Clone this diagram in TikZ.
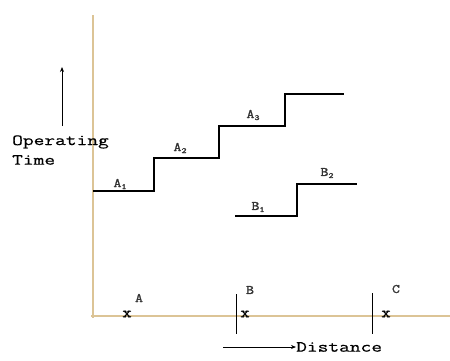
\documentclass[tikz,border=0pt]{standalone}
\usepackage{fontspec}
\newfontfamily\mono[FakeStretch=1.35,FakeBold=0.6]{Latin Modern Mono}
\newfontfamily\monob[FakeStretch=1.2,FakeBold=1.5]{Latin Modern Mono}
\usetikzlibrary{arrows.meta}
\definecolor{axiscol}{RGB}{220,196,150}
\tikzset{
  axisline/.style={draw=axiscol,line width=2.2bp},
  stepline/.style={draw=black,line width=2.2bp},
  tick/.style={draw=black,line width=0.9bp},
  txt/.style={font=\mono\fontsize{15.5}{16}\selectfont,inner sep=0pt},
  lbl/.style={font=\monob\fontsize{13}{13}\selectfont,inner sep=0pt,text=black!80},
  xmark/.style={font=\monob\fontsize{15}{15}\selectfont,inner sep=0pt},
  pointer/.style={draw=black,line width=0.8bp,-{Stealth[length=5bp,width=4bp]}}
}
\newcommand{\sub}[2]{#1\raisebox{-2bp}{\fontsize{8}{8}\selectfont #2}}
\begin{document}
\begin{tikzpicture}[x=1bp,y=-1bp]
\useasboundingbox (0,0) rectangle (450,360);
% axes
\coordinate (o) at (93,316);
\coordinate (ytop) at (93,15);
\coordinate (xend) at (450,316);
\draw[axisline] (ytop) -- (93,318);
\draw[axisline] (91,316) -- (xend);
% A steps
\coordinate (a0) at (93,191);
\coordinate (a1) at (154,191);
\coordinate (a2) at (154,158);
\coordinate (a3) at (219,158);
\coordinate (a4) at (219,126);
\coordinate (a5) at (285,126);
\coordinate (a6) at (285,94);
\coordinate (a7) at (344,94);
\draw[stepline] (a0) -- (a1) -- (a2) -- (a3) -- (a4) -- (a5) -- (a6) -- (a7);
% B steps
\coordinate (b0) at (235,216);
\coordinate (b1) at (297,216);
\coordinate (b2) at (297,184);
\coordinate (b3) at (357,184);
\draw[stepline] (b0) -- (b1) -- (b2) -- (b3);
% labels
\node[lbl] (lA1) at (120,184) {\sub{A}{1}};
\node[lbl] (lA2) at (180,148) {\sub{A}{2}};
\node[lbl] (lA3) at (253,115) {\sub{A}{3}};
\node[lbl] (lB1) at (258,207) {\sub{B}{1}};
\node[lbl] (lB2) at (327,173) {\sub{B}{2}};
% ticks
\coordinate (tb1) at (236,294);
\coordinate (tb2) at (236,334);
\coordinate (tc1) at (372,293);
\coordinate (tc2) at (372,334);
\draw[tick] (tb1) -- (tb2);
\draw[tick] (tc1) -- (tc2);
% x marks
\node[xmark] (xA) at (127,314) {x};
\node[xmark] (xB) at (245,314) {x};
\node[xmark] (xC) at (386,314) {x};
\node[lbl] (pA) at (139,298) {A};
\node[lbl] (pB) at (250,290) {B};
\node[lbl] (pC) at (396,289) {C};
% y axis label
\coordinate (up0) at (62,126);
\coordinate (up1) at (62,67);
\draw[pointer] (up0) -- (up1);
\node[txt,anchor=west] (op) at (12,142) {Operating};
\node[txt,anchor=west] (ti) at (12,160) {Time};
% distance
\node[txt,anchor=west] (dist) at (296,347) {Distance};
\coordinate (d0) at (223,347);
\draw[pointer] (d0) -- (dist.west);
\end{tikzpicture}
\end{document}
